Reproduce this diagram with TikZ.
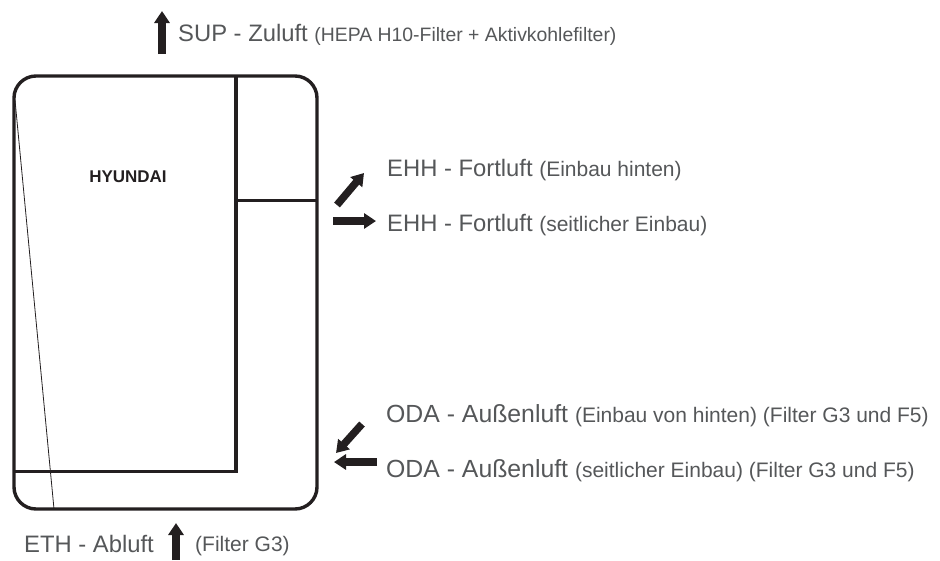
\documentclass[tikz,border=0pt]{standalone}
\usepackage{fontspec}
\setmainfont{Liberation Sans}
\usetikzlibrary{arrows.meta}
\definecolor{labelgray}{HTML}{555759}
\definecolor{inkdark}{HTML}{231F20}
\newcommand{\subtext}{\fontsize{21}{24}\selectfont}
\tikzset{
    wall/.style={draw=inkdark,line width=3.4pt},
    flow/.style={draw=inkdark,line width=7.5pt,-{Triangle[width=15pt,length=12pt]}},
    mainlabel/.style={anchor=base west,inner sep=0pt,text=labelgray,font=\fontsize{23.8}{27}\selectfont},
    widelabel/.style={mainlabel,font=\fontsize{24.8}{27}\selectfont}
}
\begin{document}
\begin{tikzpicture}[x=1pt,y=-1pt]
            \useasboundingbox (0,0) rectangle (940,560);

            % housing
            \node (housing) at (165.5,292.5) [wall,rounded corners=22pt,minimum width=303pt,minimum height=433pt,inner sep=0pt] {};
            \coordinate (topjoin) at (236,76);
            \coordinate (innercorner) at (236,471.5);
            \coordinate (innerleft) at (14,471.5);
            \coordinate (shelfleft) at (236,200.5);
            \coordinate (shelfright) at (317,200.5);
            \coordinate (slantup) at (15,100);
            \coordinate (slantdown) at (54,509);
            \draw[wall] (topjoin) -- (innercorner) -- (innerleft);
            \draw[wall] (shelfleft) -- (shelfright);
            \draw[draw=inkdark,line width=0.8pt] (slantup) -- (slantdown);
            \node (brand) at (128,177) [text=inkdark,font=\fontsize{17}{20}\selectfont\bfseries] {HYUNDAI};

            % arrows
            \coordinate (suptail) at (162,54);
            \coordinate (suptip) at (162,11);
            \coordinate (ehhbacktail) at (337,205);
            \coordinate (ehhbacktip) at (364,173);
            \coordinate (ehhsidetail) at (333,221);
            \coordinate (ehhsidetip) at (376,221);
            \coordinate (odabacktail) at (362,424);
            \coordinate (odabacktip) at (336,453);
            \coordinate (odasidetail) at (377,462);
            \coordinate (odasidetip) at (334,462);
            \coordinate (ethtail) at (176,560);
            \coordinate (ethtip) at (176,523);
            \draw[flow] (suptail) -- (suptip);
            \draw[flow] (ehhbacktail) -- (ehhbacktip);
            \draw[flow] (ehhsidetail) -- (ehhsidetip);
            \draw[flow] (odabacktail) -- (odabacktip);
            \draw[flow] (odasidetail) -- (odasidetip);
            \draw[flow] (ethtail) -- (ethtip);

            % labels
            \node (sup) at (178,41) [mainlabel] {SUP - Zuluft {\fontsize{19.4}{22}\selectfont (HEPA H10-Filter + Aktivkohlefilter)}};
            \node (ehhback) at (387,176) [mainlabel] {EHH - Fortluft {\subtext (Einbau hinten)}};
            \node (ehhside) at (387,231) [mainlabel] {EHH - Fortluft {\subtext (seitlicher Einbau)}};
            \node (odaback) at (386,422) [widelabel] {ODA - Außenluft {\subtext (Einbau von hinten) (Filter G3 und F5)}};
            \node (odaside) at (386,477) [widelabel] {ODA - Außenluft {\subtext (seitlicher Einbau) (Filter G3 und F5)}};
            \node (eth) at (24,552) [mainlabel] {ETH - Abluft};
            \node (ethfilter) at (195,551) [mainlabel] {\subtext (Filter G3)};

        \end{tikzpicture}
\end{document}
